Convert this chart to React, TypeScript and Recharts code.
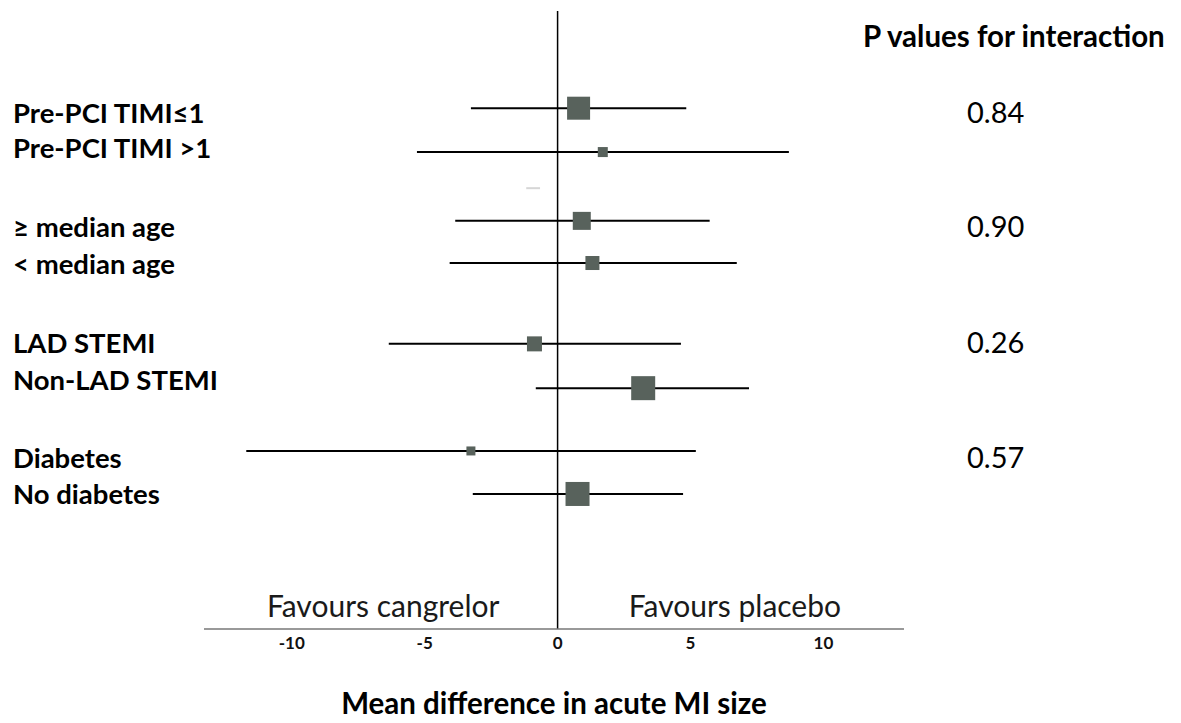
import React from 'react';
import {
  ComposedChart,
  Scatter,
  XAxis,
  YAxis,
  ErrorBar,
  ReferenceLine,
  Customized,
} from 'recharts';

// ---- data ----
const subgroups = [
  'Pre-PCI TIMI≤1',
  'Pre-PCI TIMI >1',
  '≥ median age',
  '< median age',
  'LAD STEMI',
  'Non-LAD STEMI',
  'Diabetes',
  'No diabetes',
];
const estimates = [0.79, 1.7, 0.91, 1.31, -0.87, 3.22, -3.26, 0.75];
const lowerCI = [-3.26, -5.29, -3.85, -4.06, -6.35, -0.82, -11.71, -3.19];
const upperCI = [4.84, 8.7, 5.72, 6.74, 4.64, 7.2, 5.2, 4.72];
const weights = [23, 10, 18, 14, 15, 24, 9, 24];
// vertical row positions (row units, top = 0)
const rowPos = [2.26, 3.28, 4.88, 5.86, 7.74, 8.77, 10.23, 11.23];
const labelPos = [2.6, 3.42, 5.26, 6.12, 7.95, 8.81, 10.63, 11.47];
const pValues = ['0.84', '0.90', '0.26', '0.57'];
const pValuePos = [2.6, 5.26, 7.95, 10.63];
const xTicks = [-10, -5, 0, 5, 10];
const favourLabels = ['Favours cangrelor', 'Favours placebo'];
const favourX = [-6.56, 6.67];
const favourY = 14.09;

const FONT = 'Lato, "Liberation Sans", sans-serif';
const SQUARE = '#58625c';

const rows = subgroups.map((name, i) => ({
  name,
  est: estimates[i],
  pos: rowPos[i],
  err: [estimates[i] - lowerCI[i], upperCI[i] - estimates[i]],
  w: weights[i],
}));

const favourData = favourLabels.map((t, i) => ({ est: favourX[i], pos: favourY, text: t }));
const pData = pValues.map((p, i) => ({ est: 0, pos: pValuePos[i], text: p }));

const SquareShape = (props: any) => {
  const { cx, cy, payload } = props;
  const s = payload.w;
  return <rect x={cx - s / 2} y={cy - s / 2} width={s} height={s} fill={SQUARE} />;
};

const TextShape = (props: any) => {
  const { cx, cy, payload } = props;
  return (
    <text x={cx} y={cy} textAnchor="middle" fontFamily={FONT} fontSize={30} fill="#1a1a1a">
      {payload.text}
    </text>
  );
};

const PShape = (props: any) => {
  const { cy, payload } = props;
  return (
    <text x={967} y={cy} fontFamily={FONT} fontSize={29} fill="#000">
      {payload.text}
    </text>
  );
};

const LeftTick = (props: any) => {
  const { y, payload } = props;
  const idx = labelPos.indexOf(payload.value);
  return (
    <text x={13} y={y} fontFamily={FONT} fontWeight={700} fontSize={27.5} fill="#000">
      {subgroups[idx]}
    </text>
  );
};

const Header = () => (
  <text x={863} y={47} fontFamily={FONT} fontWeight={700} fontSize={29.5} fill="#000">
    P values for interaction
  </text>
);

export default function App() {
  return (
    <div style={{ position: 'absolute', left: 0, top: 0, background: '#fff' }}>
      <ComposedChart
        width={1181}
        height={723}
        margin={{ top: 11, right: 277, bottom: 0, left: 0 }}
      >
        <XAxis
          type="number"
          dataKey="est"
          domain={[-13.3, 13.03]}
          ticks={xTicks}
          tickLine={false}
          axisLine={{ stroke: '#777', strokeWidth: 1.5 }}
          tick={{ fontFamily: FONT, fontWeight: 700, fontSize: 17, fill: '#111' }}
          height={94}
          label={{
            value: 'Mean difference in acute MI size',
            position: 'insideBottom',
            offset: 9,
            style: { fontFamily: FONT, fontWeight: 700, fontSize: 29.5, fill: '#000' },
          }}
        />
        <YAxis
          yAxisId="left"
          type="number"
          dataKey="pos"
          domain={[0, 14.37]}
          reversed
          ticks={labelPos}
          interval={0}
          width={204}
          axisLine={false}
          tickLine={false}
          tick={<LeftTick />}
        />
        <ReferenceLine yAxisId="left" x={0} stroke="#000" strokeWidth={1.5} />
        <ReferenceLine
          yAxisId="left"
          segment={[
            { x: -1.18, y: 4.12 },
            { x: -0.66, y: 4.12 },
          ]}
          stroke="#d6d6d6"
          strokeWidth={2}
        />
        <Scatter
          yAxisId="left"
          data={rows}
          dataKey="pos"
          shape={<SquareShape />}
          isAnimationActive={false}
        >
          <ErrorBar
            dataKey="err"
            direction="x"
            width={0}
            stroke="#000"
            strokeWidth={2}
            isAnimationActive={false}
          />
        </Scatter>
        <Scatter
          yAxisId="left"
          data={favourData}
          dataKey="pos"
          shape={<TextShape />}
          isAnimationActive={false}
        />
        <Scatter
          yAxisId="left"
          data={pData}
          dataKey="pos"
          shape={<PShape />}
          isAnimationActive={false}
        />
        <Customized component={<Header />} />
      </ComposedChart>
    </div>
  );
}
